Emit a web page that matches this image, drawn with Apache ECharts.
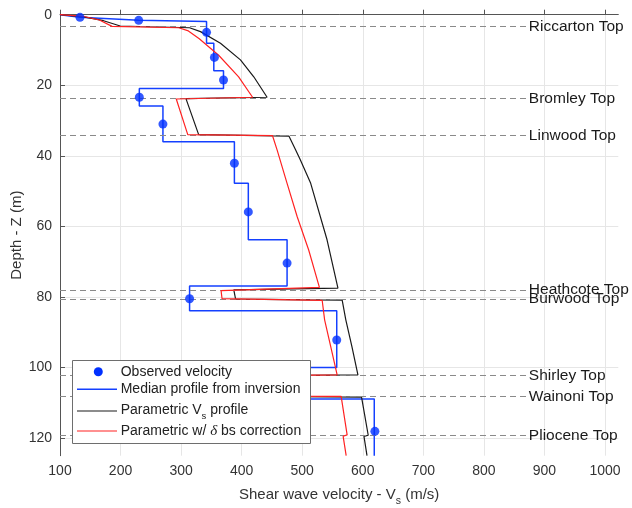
<!DOCTYPE html>
<html>
<head>
<meta charset="utf-8">
<script src="https://cdn.jsdelivr.net/npm/echarts@6/dist/echarts.min.js"></script>
<style>
html,body{margin:0;padding:0;background:#fff;}
#chart{width:632px;height:508px;}
</style>
</head>
<body>
<div id="chart"></div>
<script>
// ---- Data (Vs in m/s, depth Z in m) ----
const observedVs = [133, 230, 342, 355, 370, 231, 270, 388, 411, 475, 314, 557, 620];
const observedZ  = [0.75, 1.6, 5.0, 12.1, 18.5, 23.4, 31.0, 42.1, 55.9, 70.4, 80.5, 92.2, 118.1];

const medianVs = [100, 133, 230, 230, 342, 342, 354, 354, 370, 370, 231, 231, 270, 270, 388, 388, 411, 411, 475, 475, 314, 314, 557, 557, 420, 420, 619, 619];
const medianZ  = [0, 0.7, 1.6, 1.9, 1.9, 8.1, 8.1, 15.9, 15.9, 20.9, 20.9, 25.9, 25.9, 36.0, 36.0, 47.8, 47.8, 63.8, 63.8, 76.9, 76.9, 83.9, 83.9, 100.0, 100.0, 108.9, 108.9, 125];

const paramVs = [100, 139, 172, 199.5, 314, 332, 365, 398, 420, 442, 308, 329, 478, 489, 497, 514, 541, 559, 387, 390, 566, 572, 582, 592, 420, 430, 598, 609, 602, 607];
const paramZ  = [0, 0.6, 1.7, 3.2, 3.7, 4.8, 8.1, 12.8, 17.6, 23.4, 23.8, 34.0, 34.4, 38.3, 41.2, 47.8, 63.8, 77.5, 78.0, 80.6, 80.9, 86.5, 94.0, 102.1, 102.4, 108.2, 108.4, 119.2, 119.5, 125];

const corrVs = [100, 140, 165, 186, 296, 312, 330, 362, 395, 418, 292, 311, 451, 458.5, 475, 491.6, 510.7, 528.4, 366, 367.6, 533, 537, 547, 557.7, 400, 410, 564.3, 574.2, 567.6, 572.6];
const corrZ  = [0, 0.5, 1.5, 3.3, 3.7, 4.6, 6.8, 11.5, 17.6, 23.4, 23.9, 34.0, 34.3, 38.3, 47.8, 57.2, 66.7, 77.3, 78.2, 80.5, 81.0, 86.5, 94.0, 102.1, 102.4, 108.1, 108.2, 119.1, 119.5, 125];

const formationNames  = ['Riccarton Top', 'Bromley Top', 'Linwood Top', 'Heathcote Top', 'Burwood Top', 'Shirley Top', 'Wainoni Top', 'Pliocene Top'];
const formationDepths = [3.4, 23.7, 34.3, 78.0, 80.6, 102.3, 108.2, 119.2];
const formationLineEndVs = 871;

const xTicks = [100, 200, 300, 400, 500, 600, 700, 800, 900, 1000];
const yTicks = [0, 20, 40, 60, 80, 100, 120];

const legendLabels = ['Observed velocity', 'Median profile from inversion', 'Parametric V{sub|s} profile', 'Parametric w/ {it|δ} bs correction'];

// ---- build ----
const zip = (a, b) => a.map((v, i) => [v, b[i]]);
const BLUE = '#1440ff', DOT = '#0030ff', BLACK = '#1a1a1a', RED = '#ff2222';
const FONT = 'Liberation Sans, Arial, Helvetica, sans-serif';

const chart = echarts.init(document.getElementById('chart'), null, {renderer: 'canvas'});

const markData = formationNames.map((n, i) => [
  {coord: [xTicks[0], formationDepths[i]], name: n},
  {coord: [formationLineEndVs, formationDepths[i]]}
]);

const lx = 72, ly = 360, lw = 238, lh = 83;
const rowY = [371.7, 389.3, 410, 431];
const legendRich = {
  sub: {fontSize: 9.5, fontFamily: FONT, fill: '#222', color: '#222', padding: [12, 0, 0, 0]},
  it: {fontSize: 15, fontFamily: 'Liberation Serif, serif', fontStyle: 'italic', fill: '#222', color: '#222'}
};

const option = {
  animation: false,
  backgroundColor: '#fff',
  grid: {left: 60, right: 13.7, top: 14.7, bottom: 52.3, containLabel: false, outerBoundsMode: 'none'},
  xAxis: {
    type: 'value', min: 100, max: 1022, interval: 100,
    name: 'Shear wave velocity - V{sub|s} (m/s)',
    nameLocation: 'middle', nameGap: 28, nameMoveOverlap: false,
    nameTextStyle: {color: '#333', fontSize: 15, fontFamily: FONT,
      rich: {sub: {fontSize: 10.5, fontFamily: FONT, color: '#333', padding: [12, 0, 0, 0]}}},
    axisLine: {show: true, lineStyle: {color: '#555', width: 1}},
    axisTick: {show: true, inside: true, length: 5, lineStyle: {color: '#555'}, customValues: xTicks},
    axisLabel: {color: '#333', fontSize: 14, fontFamily: FONT, margin: 8, customValues: xTicks,
      formatter: v => String(v)},
    splitLine: {show: true, lineStyle: {color: '#e6e6e6', width: 1}}
  },
  yAxis: {
    type: 'value', inverse: true, min: 0, max: 125, interval: 20,
    name: 'Depth - Z (m)', nameLocation: 'middle', nameGap: 36, nameMoveOverlap: false,
    nameTextStyle: {color: '#333', fontSize: 15, fontFamily: FONT},
    axisLine: {show: true, lineStyle: {color: '#555', width: 1}},
    axisTick: {show: true, inside: true, length: 5, lineStyle: {color: '#555'}, customValues: yTicks},
    axisLabel: {color: '#333', fontSize: 14, fontFamily: FONT, margin: 8, customValues: yTicks,
      formatter: v => String(v)},
    splitLine: {show: true, lineStyle: {color: '#e6e6e6', width: 1}}
  },
  series: [
    {
      name: 'Formation tops', type: 'line', data: [], clip: false, silent: true, z: 1,
      markLine: {
        silent: true, symbol: ['none', 'none'], animation: false,
        lineStyle: {color: '#8a8a8a', type: [6, 4], width: 1.2},
        label: {show: true, position: 'end', formatter: '{b}', color: '#1a1a1a',
          fontSize: 15.5, fontFamily: FONT, distance: 2},
        emphasis: {disabled: true},
        data: markData
      }
    },
    {name: 'Median profile from inversion', type: 'line', data: zip(medianVs, medianZ),
      showSymbol: false, symbol: 'none', z: 3, lineStyle: {color: BLUE, width: 1.5}},
    {name: 'Parametric Vs profile', type: 'line', data: zip(paramVs, paramZ),
      showSymbol: false, symbol: 'none', z: 4, lineStyle: {color: BLACK, width: 1.2}},
    {name: 'Parametric w/ δ bs correction', type: 'line', data: zip(corrVs, corrZ),
      showSymbol: false, symbol: 'none', z: 5, lineStyle: {color: RED, width: 1.2}},
    {name: 'Observed velocity', type: 'scatter', data: zip(observedVs, observedZ),
      symbol: 'circle', symbolSize: 9, z: 6, itemStyle: {color: DOT}}
  ],
  graphic: [{
    type: 'group', z: 100,
    children: [
      {type: 'rect', shape: {x: lx + 0.5, y: ly + 0.5, width: lw, height: lh},
        style: {fill: '#fff', stroke: '#6e6e6e', lineWidth: 1}, z: 100},
      {type: 'circle', shape: {cx: 98.3, cy: rowY[0], r: 4.5}, style: {fill: DOT}, z: 101},
      {type: 'line', shape: {x1: 77, y1: rowY[1], x2: 117, y2: rowY[1]}, style: {stroke: BLUE, lineWidth: 1.5}, z: 101},
      {type: 'line', shape: {x1: 77, y1: rowY[2] + 1, x2: 117, y2: rowY[2] + 1}, style: {stroke: BLACK, lineWidth: 1.2}, z: 101},
      {type: 'line', shape: {x1: 77, y1: rowY[3], x2: 117, y2: rowY[3]}, style: {stroke: RED, lineWidth: 1.2}, z: 101},
      ...legendLabels.map((t, i) => ({
        type: 'text', x: 120.7, y: rowY[i], z: 101,
        style: {text: t, fill: '#222', fontSize: 14, fontFamily: FONT,
          verticalAlign: 'middle', align: 'left', rich: legendRich}
      }))
    ]
  }]
};
chart.setOption(option);
</script>
</body>
</html>
